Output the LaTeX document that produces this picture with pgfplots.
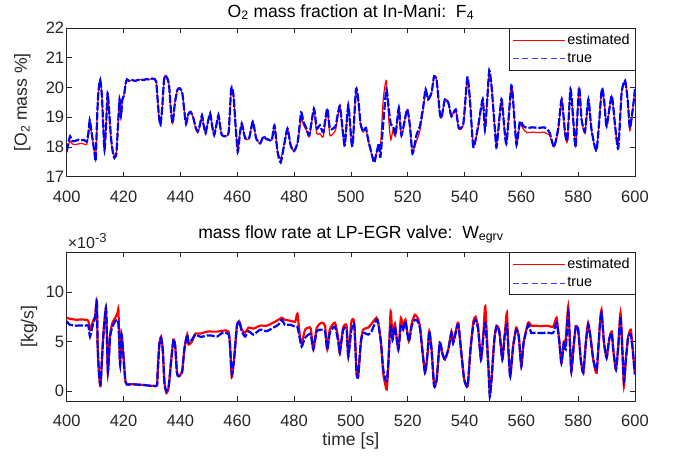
\documentclass[border=0pt]{standalone}
\usepackage{fontspec}
\setmainfont{Liberation Sans}
\usepackage{pgfplots}
\pgfplotsset{compat=1.18}
\usepackage{pgfplotstable}
\definecolor{axgray}{rgb}{0.15,0.15,0.15}

% O2 mass fraction [%]
\pgfplotstableread{
t tru est
400.0 17.85 17.80
400.6 18.15 18.05
401.2 18.36 18.20
402.0 18.20 18.10
403.0 18.20 18.08
404.0 18.24 18.10
405.0 18.22 18.12
406.0 18.24 18.10
407.0 18.18 18.08
407.6 18.45 18.35
408.1 18.90 18.75
408.6 18.60 18.55
409.2 18.20 18.20
409.8 17.80 17.80
410.2 17.55 17.60
410.8 19.20 19.20
411.2 19.90 19.85
411.8 20.25 20.25
412.4 19.70 19.70
412.9 18.60 18.60
413.3 17.90 17.95
413.8 18.60 18.60
414.4 19.80 19.80
415.0 19.10 19.10
415.6 18.30 18.30
416.2 17.85 17.85
416.8 17.63 17.70
417.5 17.80 17.85
418.1 18.80 18.80
418.6 19.60 19.60
419.1 19.05 19.00
419.6 19.60 19.60
420.2 19.75 19.75
420.7 20.10 20.10
421.2 20.27 20.27
422.0 20.22 20.22
423.0 20.25 20.25
424.0 20.22 20.22
425.0 20.25 20.25
426.0 20.27 20.27
427.0 20.25 20.25
428.0 20.28 20.28
429.0 20.27 20.27
430.0 20.30 20.30
431.0 20.28 20.28
431.5 20.20 20.20
432.0 19.60 19.60
432.5 19.00 19.00
433.0 18.75 18.75
433.6 19.30 19.30
434.2 20.20 20.20
434.6 20.40 20.40
435.3 20.33 20.30
436.0 20.10 20.10
436.7 19.20 19.20
437.3 18.80 18.80
438.1 19.50 19.50
439.0 19.93 19.93
439.9 19.97 19.97
440.7 19.80 19.80
441.4 19.20 19.20
442.0 18.78 18.78
442.8 19.10 19.10
443.6 19.18 19.18
444.5 19.00 19.00
445.4 18.65 18.62
446.1 18.52 18.48
446.9 18.75 18.72
447.6 19.06 19.06
448.2 18.73 18.73
448.9 18.47 18.45
449.6 18.80 18.80
450.5 19.13 19.13
451.2 18.70 18.70
451.9 18.40 18.40
452.6 18.70 18.70
453.4 19.07 19.07
454.0 18.70 18.70
454.6 18.40 18.40
455.8 18.36 18.36
457.0 18.50 18.50
457.9 19.97 19.95
458.7 19.74 19.70
459.5 18.62 18.62
460.2 17.84 17.84
460.9 18.40 18.40
461.6 18.79 18.79
462.8 18.30 18.28
464.2 18.30 18.28
465.5 18.85 18.85
466.7 18.28 18.28
468.1 18.12 18.12
469.2 18.36 18.34
470.2 18.27 18.25
471.0 18.25 18.23
472.2 18.23 18.23
473.1 18.73 18.73
474.2 17.84 17.86
475.3 17.48 17.60
476.5 18.06 18.06
477.7 18.62 18.62
478.8 18.06 18.06
480.0 17.86 17.86
481.3 18.17 18.17
482.5 19.16 18.95
483.3 18.85 18.75
484.4 18.62 18.55
485.4 18.40 18.34
487.0 19.29 19.25
488.0 18.62 18.45
489.1 18.73 18.45
490.3 18.50 18.35
491.7 19.29 19.25
492.6 18.62 18.40
493.8 18.62 18.45
494.7 18.73 18.60
496.1 19.38 19.35
497.3 18.40 18.35
497.9 18.06 18.06
499.1 19.40 19.40
500.2 18.17 18.17
500.7 18.13 18.13
501.8 19.94 19.90
502.6 19.60 19.55
503.4 18.80 18.75
504.3 18.52 18.50
505.3 18.64 18.60
506.1 18.24 18.22
507.3 17.78 17.75
508.2 17.47 17.55
509.0 17.78 17.80
509.9 18.12 18.05
510.4 17.67 17.95
511.4 18.80 19.60
512.5 19.94 20.23
513.5 19.15 18.70
514.1 18.75 18.24
514.9 18.70 18.60
515.7 18.40 18.35
516.9 19.32 19.30
517.8 18.40 18.35
519.8 19.26 19.26
520.8 18.70 18.65
521.7 17.78 17.85
523.1 18.40 18.20
524.3 18.70 18.55
525.5 19.37 19.30
526.3 19.94 19.94
527.2 19.60 19.60
528.4 19.83 19.80
529.3 20.38 20.38
530.2 20.23 20.23
531.3 19.15 19.15
531.9 18.98 18.98
533.1 19.60 19.60
534.3 19.49 19.49
535.4 19.03 19.03
536.9 19.26 19.26
538.0 18.64 18.60
539.6 18.80 18.75
541.0 20.34 20.30
541.9 19.60 19.60
543.1 18.00 18.05
544.8 18.70 18.65
546.4 19.60 19.60
547.2 18.58 18.58
548.0 19.60 19.60
548.7 20.57 20.50
549.5 20.06 20.06
550.7 18.58 18.58
551.3 18.00 18.05
553.0 19.60 19.60
554.0 18.64 18.64
554.8 18.13 18.15
556.5 20.06 20.06
557.5 19.03 19.03
558.3 18.07 18.10
559.5 18.86 18.75
560.7 18.70 18.60
562.0 18.64 18.48
564.0 18.66 18.50
566.0 18.64 18.48
568.0 18.66 18.50
569.0 18.60 18.45
570.0 18.47 18.40
571.5 18.00 18.00
573.0 18.64 18.55
574.2 19.60 19.60
575.4 18.47 18.40
576.2 18.24 18.20
577.3 19.94 19.94
578.3 18.86 18.86
579.1 18.00 18.00
580.3 20.00 20.00
581.2 18.92 18.92
582.4 18.52 18.45
583.6 19.60 19.60
584.7 18.58 18.55
586.5 17.90 17.90
588.3 19.94 19.94
589.2 19.49 19.49
590.0 18.70 18.70
591.8 19.72 19.72
593.0 18.70 18.70
594.1 17.95 18.00
595.3 19.83 19.83
596.5 20.23 20.23
597.4 19.60 19.60
598.2 18.64 18.55
599.2 19.26 19.26
600.0 19.94 19.94
}\oxy

% LP-EGR mass flow [1e-3 kg/s]
\pgfplotstableread{
t tru est
400.0 7.05 7.40
401.0 6.70 7.30
402.0 6.65 7.25
403.5 6.60 7.20
405.0 6.62 7.22
406.5 6.60 7.20
407.6 6.60 7.10
408.2 5.50 6.20
409.2 6.70 7.00
410.0 7.40 7.60
410.6 9.06 9.15
410.9 4.50 4.50
411.4 1.68 1.60
411.9 0.67 0.50
412.6 4.20 4.30
413.1 6.40 6.50
413.8 8.40 8.40
414.1 6.20 6.20
414.5 2.00 1.85
415.3 5.50 5.70
416.1 6.50 6.90
417.1 7.05 7.40
417.9 7.20 7.90
418.2 6.80 8.20
418.5 4.90 5.00
418.8 2.70 2.70
419.3 5.70 5.70
419.8 4.20 4.20
420.6 1.17 1.17
421.2 0.67 0.67
423.0 0.70 0.70
425.0 0.65 0.65
427.0 0.62 0.62
429.0 0.55 0.55
431.0 0.52 0.52
431.8 0.60 0.60
432.0 1.85 1.85
432.6 4.70 4.70
433.2 5.37 5.50
433.8 4.20 4.20
434.4 0.84 0.84
435.1 0.00 -0.20
435.9 0.50 0.40
436.8 3.20 3.20
437.6 5.20 5.20
438.2 4.50 4.50
438.8 1.85 1.85
439.4 1.50 1.50
440.6 1.85 2.00
441.4 4.20 4.20
442.4 5.70 5.70
442.9 4.90 4.70
444.1 5.20 5.00
445.3 5.70 5.80
447.1 5.47 5.80
449.4 5.60 6.00
451.0 5.60 6.00
452.9 5.50 6.00
455.2 5.94 6.10
457.0 5.70 6.00
457.5 4.50 4.50
458.1 1.68 1.40
458.9 3.20 3.20
459.9 6.54 6.54
460.7 7.05 7.05
461.6 6.04 6.20
462.8 5.50 5.90
464.0 6.04 6.40
465.7 5.70 6.30
468.1 6.20 6.60
470.4 6.04 6.60
472.7 6.40 6.90
474.5 6.70 7.20
475.7 7.20 7.40
476.8 6.70 7.20
478.6 6.70 7.10
480.4 6.50 7.00
481.2 6.50 7.80
482.1 5.20 5.40
482.7 4.50 4.80
483.9 5.37 6.20
485.1 5.70 6.40
485.9 5.70 6.30
486.8 4.20 4.20
488.0 6.04 6.40
489.7 6.20 6.90
490.9 6.04 6.60
491.7 4.20 4.20
492.6 5.87 6.20
494.4 6.50 6.90
495.6 4.90 5.20
496.1 3.86 3.86
497.3 6.20 6.40
498.5 6.20 6.60
499.1 3.50 3.50
500.2 6.20 7.00
501.2 6.70 6.90
502.0 1.85 1.85
502.6 1.50 1.50
503.5 4.87 4.87
504.3 5.87 6.20
506.1 5.70 6.40
507.3 6.04 6.80
509.0 7.20 7.40
509.6 6.88 7.00
510.6 4.87 4.87
511.4 2.18 1.80
512.0 1.34 0.80
512.6 1.00 0.17
513.1 2.50 2.00
514.0 6.54 8.05
514.7 5.20 5.20
515.5 6.54 6.80
516.7 4.20 4.20
517.6 6.54 7.38
518.4 6.20 6.40
519.2 7.05 7.20
520.4 5.03 5.03
521.4 6.54 6.80
522.5 7.20 7.70
523.5 7.05 7.40
524.3 6.40 6.60
524.9 4.87 4.87
526.1 1.85 1.85
527.0 3.86 3.86
527.6 6.04 6.04
528.4 4.20 4.20
529.3 0.50 0.60
530.2 1.17 1.17
531.3 4.87 4.87
532.3 3.70 3.70
533.1 3.20 3.20
534.3 4.20 4.20
535.4 5.87 6.00
536.0 4.87 4.87
536.9 5.87 6.00
537.8 6.70 6.90
539.0 3.50 3.50
539.9 1.17 1.17
541.1 0.50 0.50
542.1 4.20 4.20
543.1 6.70 7.00
543.9 7.20 7.50
544.8 6.20 6.40
545.8 3.20 3.20
546.6 5.50 5.50
547.3 6.88 8.55
548.4 2.50 2.50
548.9 -0.55 -0.20
549.5 1.17 1.17
550.5 5.20 5.20
551.3 6.54 6.60
552.3 5.87 6.00
553.3 3.20 3.20
554.1 5.50 5.50
554.9 6.70 7.90
555.5 3.86 3.86
556.1 1.50 1.50
557.1 4.50 4.50
558.2 6.20 6.40
559.1 5.50 5.50
560.0 2.50 2.50
560.8 4.87 4.87
562.4 6.70 6.90
563.5 5.87 6.60
565.0 5.90 6.60
567.0 5.85 6.55
569.0 5.90 6.60
571.2 5.87 6.50
572.4 6.88 7.40
573.3 5.20 5.20
574.1 2.85 2.85
575.0 5.03 5.03
575.6 4.20 5.20
576.5 7.90 8.55
577.1 4.87 4.87
577.6 2.00 2.00
578.5 4.87 4.87
579.2 6.54 6.54
580.0 6.20 6.20
580.9 3.20 3.20
581.8 1.85 1.85
582.7 4.87 4.87
583.5 6.70 6.90
584.3 5.50 5.50
585.3 3.20 3.20
586.5 2.18 1.85
587.6 6.54 6.54
588.2 7.90 8.20
589.1 4.87 4.87
590.0 3.36 3.36
590.9 5.20 5.20
591.8 5.87 6.00
592.4 4.03 4.03
593.3 2.18 2.18
594.1 4.50 4.50
594.9 7.55 7.90
595.6 3.86 3.86
596.1 1.00 0.50
596.8 3.20 3.20
597.6 5.50 5.50
598.5 5.70 6.20
599.2 4.20 4.20
599.8 2.18 2.18
600.0 1.68 1.68
}\egr

\pgfplotsset{
  mlab/.style={
    scale only axis, width=568.3pt, height=148.7pt, anchor=south west,
    clip mode=individual,
    xmin=400, xmax=600, xtick={400,420,...,600},
    axis line style={axgray, line width=0.5pt},
    tick style={axgray, line width=0.5pt},
    major tick length=5pt, tick align=inside,
    tick label style={font=\fontsize{16.5}{19}\selectfont, color=axgray},
    xticklabel style={yshift=-13pt, inner ysep=1pt},
    yticklabel style={xshift=1pt},
    /pgf/number format/assume math mode=true,
    ylabel style={anchor=center, font=\fontsize{17.6}{20}\selectfont, color=axgray},
    legend cell align=left,
    legend style={at={(1,1)}, anchor=north east, draw=axgray, line width=0.5pt,
      font=\fontsize{14.4}{17}\selectfont, text=black, inner xsep=3pt, inner ysep=4pt,
      row sep=3pt},
    legend image code/.code={\draw[#1] (0pt,0pt) -- (52pt,0pt);},
  },
  est/.style={red, line width=1.2pt, smooth, tension=0.35},
  tru/.style={blue, line width=2.2pt, dash pattern=on 8pt off 2pt, smooth, tension=0.35},
}

\begin{document}
\begin{tikzpicture}
\path[use as bounding box] (0,0) rectangle (676pt,-457pt);

\begin{axis}[mlab, at={(66.7pt,-176.7pt)},
  ymin=17, ymax=22, ytick={17,18,...,22},
  ylabel={[O\textsubscript{2} mass \%]},
  ylabel style={at={(axis description cs:-0.078,0.5)}},
]
\addplot[est, forget plot] table[x=t, y=est] {\oxy};
\addplot[tru, forget plot] table[x=t, y=tru] {\oxy};
\addlegendimage{red, line width=0.6pt}
\addlegendentry{estimated}
\addlegendimage{blue!75, line width=0.7pt, dash pattern=on 6pt off 3.5pt}
\addlegendentry{true}
\node[anchor=base, font=\fontsize{17.6}{20}\selectfont, yshift=11pt]
  at (rel axis cs:0.5,1) {O\textsubscript{2} mass fraction at In-Mani:\ \ F\textsubscript{4}};
\end{axis}

\begin{axis}[mlab, at={(66.7pt,-401pt)},
  ymin=-1, ymax=14, ytick={0,5,10},
  ylabel={[kg/s]},
  ylabel style={at={(axis description cs:-0.066,0.5)}},
  xlabel={time [s]},
  xlabel style={at={(axis description cs:0.5,-0.27)}, anchor=center, inner sep=0pt,
    font=\fontsize{17.6}{20}\selectfont, color=axgray},
]
\addplot[est, line width=2.2pt, forget plot] table[x=t, y=est] {\egr};
\addplot[tru, forget plot] table[x=t, y=tru] {\egr};
\addlegendimage{red, line width=0.6pt}
\addlegendentry{estimated}
\addlegendimage{blue!75, line width=0.7pt, dash pattern=on 6pt off 3.5pt}
\addlegendentry{true}
\node[anchor=base, font=\fontsize{17.6}{20}\selectfont, yshift=14pt]
  at (rel axis cs:0.5,1) {mass flow rate at LP-EGR valve:\ \ W\textsubscript{egrv}};
\node[anchor=base west, font=\fontsize{16}{18}\selectfont, color=axgray, yshift=4pt, inner xsep=1pt]
  at (rel axis cs:0,1) {\texttimes10\textsuperscript{\fontsize{13}{15}\selectfont -3}};
\end{axis}
\end{tikzpicture}
\end{document}
